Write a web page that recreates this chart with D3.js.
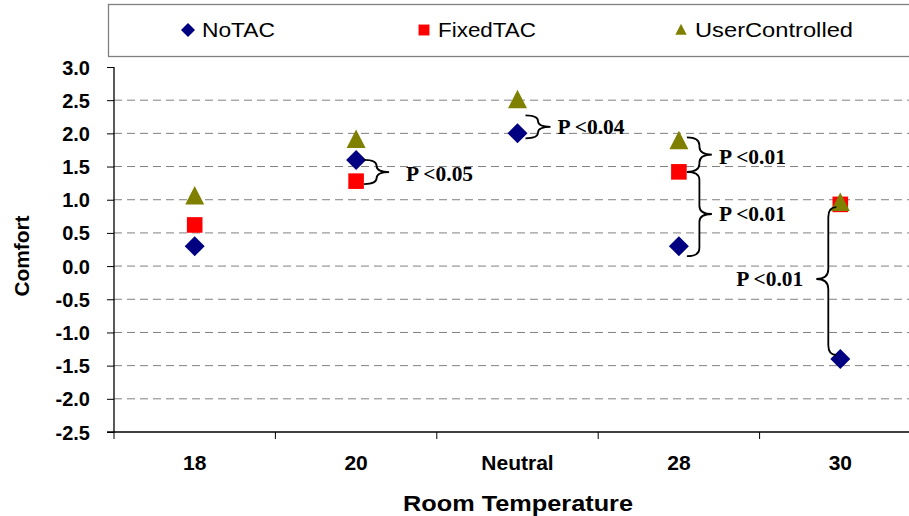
<!DOCTYPE html>
<html><head><meta charset="utf-8">
<script src="https://cdn.jsdelivr.net/npm/d3@7"></script>
<style>body{margin:0;background:#fff}svg{display:block}</style>
</head><body>
<svg id="c" width="909" height="516"></svg>
<script>
const categories = ["18", "20", "Neutral", "28", "30"];
const seriesNames = ["NoTAC", "FixedTAC", "UserControlled"];
const noTAC = [0.3, 1.6, 2.0, 0.3, -1.4];
const fixedTAC = [0.62, 1.28, null, 1.42, 0.93];
const userControlled = [1.05, 1.9, 2.5, 1.88, 0.95];
const yTicks = [3.0, 2.5, 2.0, 1.5, 1.0, 0.5, 0.0, -0.5, -1.0, -1.5, -2.0, -2.5];
const annCategory = ["20", "Neutral", "28", "28", "30"];
const annFrom = [1.6, 2.0, 1.88, 1.42, 0.95];
const annTo = [1.28, 2.0, 1.42, 0.3, -1.4];
const annLabel = ["P <0.05", "P <0.04", "P <0.01", "P <0.01", "P <0.01"];

const svg = d3.select("#c");
const SANS = "Liberation Sans, Arial, sans-serif";
const SERIF = "Liberation Serif, Times New Roman, serif";
const L = 114, R = 921, T = 67, B = 432;
const x = d3.scaleBand().domain(categories).range([L, R]);
const y = d3.scaleLinear().domain([-2.5, 3.0]).range([B, T]);
const colors = {NoTAC: "#000080", FixedTAC: "#ff0000", UserControlled: "#808000"};
const values = {NoTAC: noTAC, FixedTAC: fixedTAC, UserControlled: userControlled};

// gridlines
svg.append("g").selectAll("line").data(yTicks.filter(v => v > -2.5 && v < 3.0)).join("line")
  .attr("x1", L).attr("x2", 909).attr("y1", d => y(d)).attr("y2", d => y(d))
  .attr("stroke", "#808080").attr("stroke-width", 1).attr("stroke-dasharray", "8,5");

// y axis
const fmt = v => d3.format(".1f")(v).replace("\u2212", "-");
const ya = d3.axisLeft(y).tickValues(yTicks).tickFormat(fmt).tickSize(7);
const gy = svg.append("g").attr("transform", `translate(${L},0)`).call(ya);
gy.select(".domain").attr("stroke", "#000").attr("stroke-width", 1.3).attr("d", `M0,${T}V${B}`);
gy.selectAll(".tick line").attr("stroke", "#000");
gy.selectAll("text").attr("font-family", SANS).attr("font-weight", "bold")
  .attr("font-size", 20).attr("fill", "#000").attr("x", -24).attr("dy", "0.35em");

// x axis
const xa = d3.axisBottom(x).tickSize(0).tickPadding(23);
const gx = svg.append("g").attr("transform", `translate(0,${B})`).call(xa);
gx.select(".domain").attr("stroke", "#000").attr("stroke-width", 1.3).attr("d", `M${L-7},0H${R}`);
gx.selectAll("text").attr("font-family", SANS).attr("font-weight", "bold")
  .attr("font-size", 21).attr("fill", "#000");
svg.append("g").selectAll("line").data(categories).join("line")
  .attr("x1", d => x(d)).attr("x2", d => x(d)).attr("y1", B).attr("y2", B + 7)
  .attr("stroke", "#000").attr("stroke-width", 1);

// titles
svg.append("text").attr("x", 518).attr("y", 511).attr("text-anchor", "middle")
  .attr("font-family", SANS).attr("font-weight", "bold").attr("font-size", 22)
  .attr("textLength", 230).attr("lengthAdjust", "spacingAndGlyphs")
  .text("Room Temperature");
svg.append("text").attr("transform", "translate(29,256) rotate(-90)").attr("text-anchor", "middle")
  .attr("font-family", SANS).attr("font-weight", "bold").attr("font-size", 21)
  .attr("textLength", 81).attr("lengthAdjust", "spacingAndGlyphs")
  .text("Comfort");

// markers
function marker(sel, name, s) {
  if (name === "NoTAC") return sel.append("path").attr("d", `M0,${-s}L${s},0L0,${s}L${-s},0Z`);
  if (name === "FixedTAC") { const h = s * 0.78; return sel.append("path").attr("d", `M${-h},${-h}H${h}V${h}H${-h}Z`); }
  return sel.append("path").attr("d", `M0,${-s*1.05}L${s*0.95},${s*0.8}L${-s*0.95},${s*0.8}Z`);
}
const cx = d => x(d) + x.bandwidth() / 2;
["NoTAC", "FixedTAC", "UserControlled"].forEach(name => {
  values[name].forEach((v, i) => {
    if (v === null) return;
    const g = svg.append("g").attr("transform", `translate(${cx(categories[i])},${y(v)})`);
    marker(g, name, 10).attr("fill", colors[name]);
  });
});

// braces
function brace(x0, x2, yTop, yBot) {
  const x1 = (x0 + x2) / 2, m = (yTop + yBot) / 2, r = Math.min(8, (yBot - yTop) / 4);
  return `M${x0},${yTop}Q${x1},${yTop} ${x1},${yTop + r}V${m - r}Q${x1},${m} ${x2},${m}` +
    `Q${x1},${m} ${x1},${m + r}V${yBot - r}Q${x1},${yBot} ${x0},${yBot}`;
}
function pText(sel, xx, yy, lab, anchor) {
  sel.append("text").attr("x", xx).attr("y", yy).attr("text-anchor", anchor || "start")
    .attr("font-family", SERIF).attr("font-weight", "bold").attr("font-size", 20)
    .attr("textLength", 67).attr("lengthAdjust", "spacingAndGlyphs").text(lab);
}
annLabel.forEach((lab, i) => {
  const c = cx(annCategory[i]);
  let yt = y(annFrom[i]), yb = y(annTo[i]);
  if (annFrom[i] === annTo[i]) { yt = y(annFrom[i]) - 18; yb = y(annFrom[i]) + 5; }
  const sel = svg.append("g");
  if (annCategory[i] === "30") {
    const xr = c - 4, xl = c - 24;
    const x1 = (xr + xl) / 2 + 2, m = (yt + yb) / 2 - 2, r = 10;
    yt += 4; yb -= 4;
    sel.append("path").attr("d", `M${xr},${yt}Q${x1},${yt} ${x1},${yt + r}V${m - r}Q${x1},${m} ${xl},${m}` +
      `Q${x1},${m} ${x1},${m + r}V${yb - r}Q${x1},${yb} ${xr},${yb}`)
      .attr("fill", "none").attr("stroke", "#000").attr("stroke-width", 1.8);
    pText(sel, xl - 13, m + 7, lab, "end");
  } else {
    const x0 = c + 8, x2 = c + 33;
    sel.append("path").attr("d", brace(x0, x2, yt - (i === 2 ? 4 : 0), yb + (i === 3 ? 10 : 0) + (i === 0 ? 3 : 0)))
      .attr("fill", "none").attr("stroke", "#000").attr("stroke-width", 1.8);
    const m = (yt + yb) / 2;
    pText(sel, x2 + (i === 0 ? 17 : 7), m + 7 + (i === 0 ? 3 : 0) + (i === 3 ? 5 : 0), lab);
  }
});

// legend
svg.append("rect").attr("x", 108.5).attr("y", 4.5).attr("width", 820).attr("height", 52)
  .attr("fill", "#fff").attr("stroke", "#808080").attr("stroke-width", 1.3);
const legX = [188, 424, 681];
const legW = [73, 98, 158];
seriesNames.forEach((name, i) => {
  const g = svg.append("g").attr("transform", `translate(${legX[i]},30)`);
  marker(g, name, name === "UserControlled" ? 6 : 7).attr("fill", colors[name]);
  svg.append("text").attr("x", legX[i] + 14).attr("y", 37)
    .attr("font-family", SANS).attr("font-size", 21)
    .attr("textLength", legW[i]).attr("lengthAdjust", "spacingAndGlyphs").text(name);
});
</script>
</body></html>
